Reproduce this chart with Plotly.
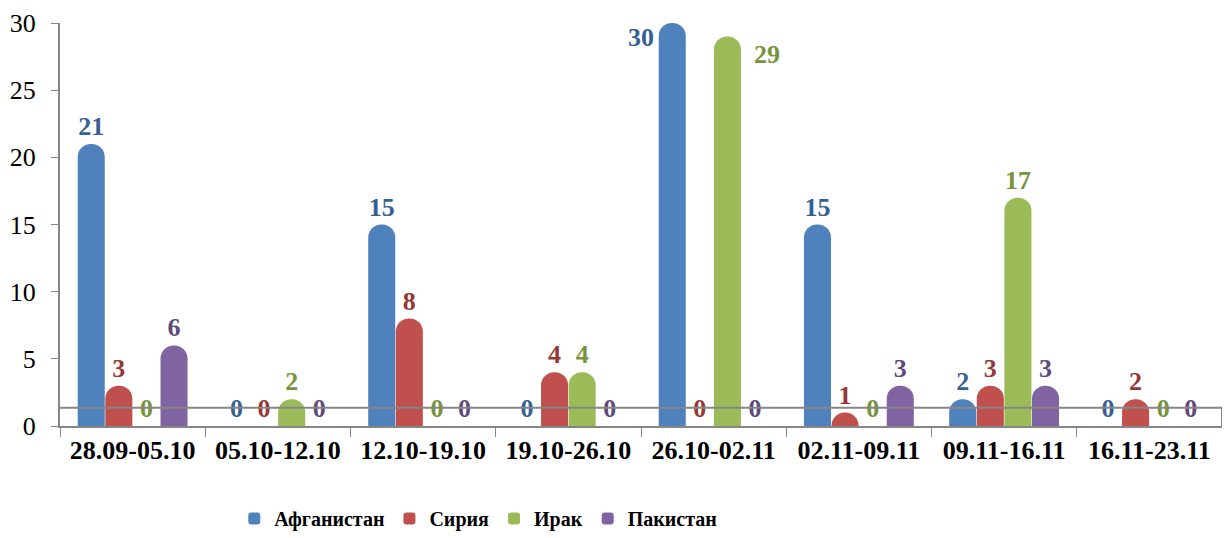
import plotly.graph_objects as go

categories = ["28.09-05.10", "05.10-12.10", "12.10-19.10", "19.10-26.10",
              "26.10-02.11", "02.11-09.11", "09.11-16.11", "16.11-23.11"]
afghanistan = [21, 0, 15, 0, 30, 15, 2, 0]
syria = [3, 0, 8, 4, 0, 1, 3, 2]
iraq = [0, 2, 0, 4, 29, 0, 17, 0]
pakistan = [6, 0, 0, 0, 0, 3, 3, 0]

series = [
    ("Афганистан", afghanistan, "#4F81BD", "#376092"),
    ("Сирия", syria, "#C0504D", "#953735"),
    ("Ирак", iraq, "#9BBB59", "#77933C"),
    ("Пакистан", pakistan, "#8064A2", "#604A7B"),
]

FONT = "Liberation Serif, Times New Roman, serif"
BAR_W = 27.2
fig = go.Figure()
annotations = []
for i, (name, vals, col, tcol) in enumerate(series):
    texts = []
    for j, v in enumerate(vals):
        if v >= 29:
            texts.append("")
            side, dy = (-32, -14) if i == 0 else (40, -18)
            annotations.append(dict(
                x=categories[j], y=v, xref="x", yref="y", text=f"<b>{v}</b>",
                showarrow=False, xshift=(i - 1.5) * BAR_W + side, yshift=dy,
                font=dict(family=FONT, size=26, color=tcol)))
        else:
            texts.append(f"<b>{v}</b>")
    fig.add_trace(go.Bar(
        name=f"<b>{name}</b>", x=categories, y=vals, text=texts, textposition="outside",
        textfont=dict(family=FONT, size=26, color=tcol),
        marker=dict(color=col, line=dict(width=0)),
        cliponaxis=False,
    ))

fig.update_layout(
    width=1222, height=530,
    margin=dict(l=52, r=8, t=15, b=112),
    paper_bgcolor="white", plot_bgcolor="white",
    barmode="group", bargap=0.24, bargroupgap=0.02,
    barcornerradius=13,
    font=dict(family=FONT, size=20, color="black"),
    xaxis=dict(showline=True, linecolor="#868686", linewidth=2,
               ticks="outside", tickson="boundaries", ticklen=9, tickcolor="#868686",
               tickvals=categories, ticktext=[f"<b>{c}</b>" for c in categories],
               tickfont=dict(family=FONT, size=26, color="black"),
               showgrid=False, automargin=False),
    yaxis=dict(range=[0, 30], dtick=5, showline=True, linecolor="#868686", linewidth=2,
               ticks="outside", ticklen=7, tickcolor="#868686", showgrid=False,
               zeroline=False, automargin=False, ticklabelstandoff=10,
               tickfont=dict(family=FONT, size=26, color="black")),
    legend=dict(orientation="h", x=0.15, xanchor="left", y=0.0, yanchor="bottom",
                yref="container",
                font=dict(family=FONT, size=20, color="black"),
                itemwidth=30, traceorder="normal"),
    annotations=annotations,
    shapes=[
        dict(type="line", xref="paper", yref="y", x0=0, x1=1, y0=1.35, y1=1.35,
             line=dict(color="#868686", width=2)),
        dict(type="line", xref="paper", yref="y", x0=1, x1=1, y0=0, y1=1.35,
             line=dict(color="#868686", width=2)),
    ],
)
fig.write_html("out.html")
